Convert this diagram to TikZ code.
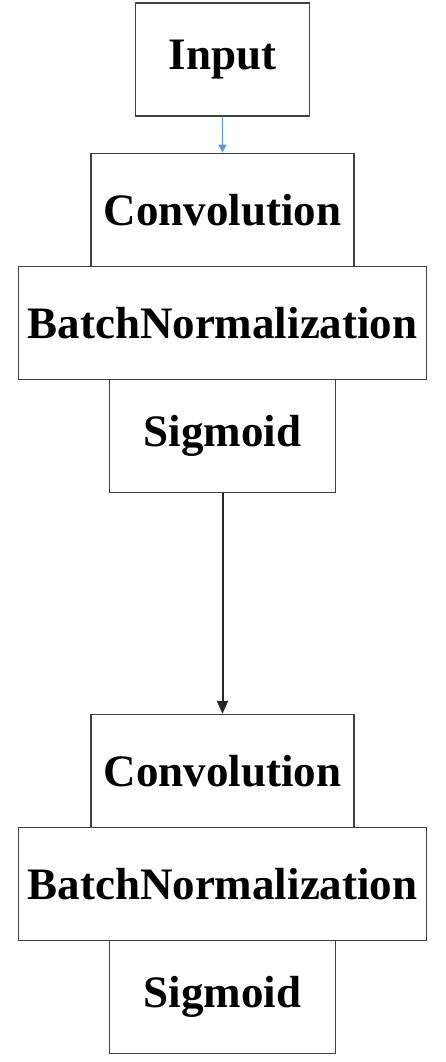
\documentclass[tikz,border=0pt]{standalone}
\usepackage{fontspec}
\setmainfont{Liberation Serif}
\usetikzlibrary{arrows.meta}
\definecolor{boxline}{HTML}{404040}
\definecolor{blueline}{HTML}{5B9BD5}
\definecolor{darkline}{HTML}{262626}
\tikzset{
  layer/.style={draw=boxline, line width=1.3pt, fill=white, inner sep=0pt,
    minimum height=113pt, font=\fontsize{45}{54}\selectfont\bfseries},
  bluearrow/.style={draw=blueline, line width=1pt, -{Triangle[length=8pt,width=8pt]}},
  darkarrow/.style={draw=darkline, line width=2pt, -{Triangle[length=13pt,width=11pt]}}
}
\begin{document}
\begin{tikzpicture}[x=1pt,y=-1pt]
\useasboundingbox (0,0) rectangle (446,1062);
\node[layer, minimum width=174pt] (in) at (222.3,59.5) {Input};
\node[layer, minimum width=263pt] (c1) at (222.5,209.8) {Convolution};
\node[layer, minimum width=408pt] (b1) at (222.5,322.8) {BatchNormalization};
\node[layer, minimum width=226pt] (s1) at (222.5,435.8) {Sigmoid};
\node[layer, minimum width=263pt] (c2) at (222.5,771) {Convolution};
\node[layer, minimum width=408pt] (b2) at (222.5,884) {BatchNormalization};
\node[layer, minimum width=226pt] (s2) at (222.5,997) {Sigmoid};
\draw[bluearrow] (in.south) -- (c1.north);
\draw[darkarrow] (s1.south) -- (c2.north);
\end{tikzpicture}
\end{document}
